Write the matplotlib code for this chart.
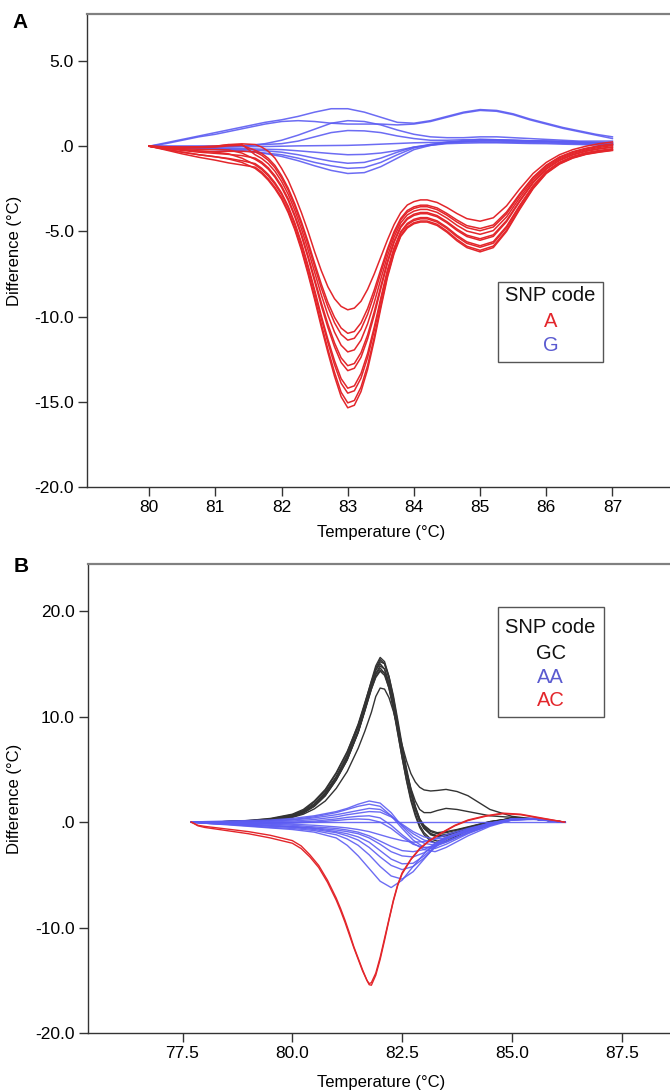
import matplotlib
matplotlib.use('Agg')
import matplotlib.pyplot as plt
from matplotlib.patches import Rectangle

plt.rcParams['font.family'] = ['Liberation Sans', 'DejaVu Sans']

# ---- panel A data (SNP code A = red, G = blue) ----
temp_a_red = [80.0, 80.25, 80.5, 80.75, 81.0, 81.2, 81.4,
              81.6, 81.7, 81.8, 81.9, 82.0, 82.1, 82.2, 82.3, 82.4, 82.5,
              82.6, 82.7, 82.8, 82.9, 83.0, 83.1, 83.2, 83.3, 83.4, 83.5,
              83.6, 83.7, 83.8, 83.9, 84.0, 84.1, 84.2, 84.35, 84.5, 84.65,
              84.8, 85.0, 85.2, 85.4, 85.6, 85.8, 86.0, 86.2, 86.4, 86.6,
              86.8, 87.0]
a_red = [
    [0, -0.03, -0.05, -0.03, 0.0, 0.08, 0.14,
     0.1, -0.05, -0.3, -0.7, -1.3, -2.0, -2.9, -3.9, -5.0, -6.2,
     -7.3, -8.25, -8.95, -9.4, -9.6, -9.5, -9.1, -8.4, -7.5, -6.5,
     -5.5, -4.6, -3.9, -3.45, -3.25, -3.15, -3.15, -3.3, -3.6, -3.95,
     -4.25, -4.4, -4.2, -3.5, -2.5, -1.6, -0.95, -0.5, -0.2, 0.0,
     0.15, 0.25],
    [0, -0.05, -0.08, -0.08, -0.05, 0.02, 0.05,
     -0.24, -0.42, -0.71, -1.13, -1.73, -2.46, -3.38, -4.43, -5.6, -6.87,
     -8.09, -9.17, -10.04, -10.67, -10.98, -10.87, -10.37, -9.53, -8.44, -7.22,
     -6.03, -5.01, -4.24, -3.77, -3.56, -3.46, -3.46, -3.62, -3.95, -4.33,
     -4.66, -4.83, -4.62, -3.86, -2.79, -1.82, -1.11, -0.63, -0.32, -0.12,
     0.03, 0.13],
    [0, -0.1, -0.2, -0.28, -0.32, -0.3, -0.3,
     -0.33, -0.53, -0.83, -1.26, -1.86, -2.59, -3.52, -4.58, -5.78, -7.07,
     -8.32, -9.44, -10.36, -11.04, -11.38, -11.27, -10.74, -9.86, -8.71, -7.43,
     -6.18, -5.13, -4.33, -3.87, -3.65, -3.55, -3.55, -3.72, -4.05, -4.45,
     -4.78, -4.96, -4.74, -3.97, -2.87, -1.88, -1.15, -0.67, -0.36, -0.15,
     -0.01, 0.1],
    [0, -0.04, -0.06, -0.05, 0.0, 0.1, 0.1,
     -0.5, -0.72, -1.03, -1.47, -2.07, -2.82, -3.76, -4.85, -6.08, -7.4,
     -8.72, -9.91, -10.91, -11.68, -12.07, -11.95, -11.38, -10.42, -9.18, -7.79,
     -6.45, -5.33, -4.5, -4.03, -3.81, -3.71, -3.71, -3.88, -4.22, -4.64,
     -4.98, -5.17, -4.95, -4.15, -3.02, -1.99, -1.23, -0.74, -0.42, -0.21,
     -0.07, 0.04],
    [0, -0.12, -0.25, -0.35, -0.42, -0.48, -0.55,
     -0.7, -0.93, -1.27, -1.73, -2.33, -3.08, -4.04, -5.15, -6.43, -7.8,
     -9.18, -10.44, -11.54, -12.42, -12.88, -12.75, -12.12, -11.08, -9.72, -8.21,
     -6.75, -5.57, -4.7, -4.22, -3.99, -3.89, -3.89, -4.07, -4.43, -4.86,
     -5.22, -5.43, -5.2, -4.36, -3.18, -2.11, -1.32, -0.81, -0.49, -0.27,
     -0.14, -0.04],
    [0, -0.08, -0.15, -0.18, -0.2, -0.22, -0.4,
     -0.77, -1.01, -1.35, -1.82, -2.42, -3.18, -4.14, -5.26, -6.55, -7.94,
     -9.35, -10.64, -11.77, -12.69, -13.17, -13.03, -12.39, -11.31, -9.92, -8.36,
     -6.86, -5.65, -4.77, -4.29, -4.06, -3.96, -3.96, -4.14, -4.5, -4.94,
     -5.3, -5.52, -5.29, -4.43, -3.24, -2.16, -1.35, -0.84, -0.51, -0.3,
     -0.16, -0.06],
    [0, -0.18, -0.35, -0.5, -0.62, -0.72, -0.85,
     -1.02, -1.29, -1.66, -2.14, -2.74, -3.52, -4.5, -5.66, -7.0, -8.44,
     -9.94, -11.33, -12.59, -13.64, -14.2, -14.06, -13.34, -12.16, -10.62, -8.9,
     -7.26, -5.96, -5.02, -4.53, -4.29, -4.19, -4.19, -4.38, -4.76, -5.23,
     -5.61, -5.84, -5.6, -4.7, -3.46, -2.32, -1.47, -0.94, -0.6, -0.38,
     -0.25, -0.15],
    [0, -0.1, -0.2, -0.28, -0.35, -0.45, -0.7,
     -1.09, -1.37, -1.75, -2.23, -2.83, -3.62, -4.6, -5.77, -7.13, -8.58,
     -10.11, -11.52, -12.82, -13.91, -14.49, -14.35, -13.61, -12.4, -10.82, -9.05,
     -7.37, -6.05, -5.09, -4.6, -4.36, -4.26, -4.26, -4.45, -4.83, -5.31,
     -5.7, -5.93, -5.69, -4.78, -3.52, -2.37, -1.5, -0.97, -0.63, -0.41,
     -0.28, -0.18],
    [0, -0.22, -0.45, -0.65, -0.82, -0.98, -1.1,
     -1.23, -1.52, -1.92, -2.41, -3.01, -3.81, -4.8, -5.99, -7.38, -8.86,
     -10.44, -11.91, -13.27, -14.44, -15.06, -14.92, -14.14, -12.87, -11.21, -9.35,
     -7.59, -6.22, -5.23, -4.73, -4.49, -4.39, -4.39, -4.58, -4.98, -5.47,
     -5.87, -6.11, -5.86, -4.93, -3.64, -2.46, -1.57, -1.02, -0.68, -0.46,
     -0.33, -0.23],
    [0, -0.18, -0.35, -0.5, -0.62, -0.75, -0.95,
     -1.3, -1.6, -2.0, -2.5, -3.1, -3.9, -4.9, -6.1, -7.5, -9.0,
     -10.6, -12.1, -13.5, -14.7, -15.35, -15.2, -14.4, -13.1, -11.4, -9.5,
     -7.7, -6.3, -5.3, -4.8, -4.55, -4.45, -4.45, -4.65, -5.05, -5.55,
     -5.95, -6.2, -5.95, -5.0, -3.7, -2.5, -1.6, -1.05, -0.7, -0.48,
     -0.35, -0.25],
]

temp_a_blue = [80.0, 80.25, 80.5, 80.75, 81.0, 81.25, 81.5, 81.75, 82.0, 82.25, 82.5, 82.75,
               83.0, 83.25, 83.5, 83.75, 84.0, 84.25, 84.5, 84.75, 85.0, 85.25, 85.5, 85.75,
               86.0, 86.25, 86.5, 86.75, 87.0]
a_blue = [
    [0, 0.2, 0.4, 0.6, 0.8, 1.0, 1.2, 1.4, 1.55, 1.75, 2.0, 2.2, 2.2, 2.0, 1.7, 1.4, 1.35, 1.5, 1.75, 2.0, 2.15, 2.1, 1.9, 1.6, 1.35, 1.1, 0.9, 0.7, 0.55],
    [0, 0.15, 0.35, 0.55, 0.7, 0.9, 1.1, 1.3, 1.45, 1.5, 1.45, 1.35, 1.3, 1.3, 1.3, 1.25, 1.3, 1.45, 1.7, 1.95, 2.1, 2.05, 1.85, 1.55, 1.3, 1.05, 0.85, 0.65, 0.45],
    [0, 0.0, 0.0, 0.0, 0.0, 0.0, 0.05, 0.15, 0.35, 0.65, 1.0, 1.35, 1.5, 1.45, 1.25, 0.95, 0.7, 0.55, 0.5, 0.5, 0.55, 0.55, 0.5, 0.45, 0.4, 0.35, 0.3, 0.3, 0.3],
    [0, 0.0, 0.0, 0.0, 0.0, 0.0, 0.05, 0.1, 0.15, 0.3, 0.55, 0.8, 0.92, 0.9, 0.8, 0.6, 0.45, 0.35, 0.35, 0.38, 0.4, 0.38, 0.35, 0.32, 0.3, 0.28, 0.25, 0.22, 0.2],
    [0, -0.02, -0.04, -0.05, -0.05, -0.04, -0.03, -0.02, 0.0, 0.02, 0.03, 0.04, 0.05, 0.08, 0.12, 0.16, 0.2, 0.22, 0.24, 0.25, 0.25, 0.24, 0.23, 0.21, 0.2, 0.17, 0.15, 0.12, 0.1],
    [0, -0.05, -0.08, -0.1, -0.1, -0.12, -0.15, -0.18, -0.2, -0.27, -0.35, -0.43, -0.5, -0.48, -0.4, -0.25, -0.05, 0.05, 0.15, 0.18, 0.2, 0.2, 0.18, 0.16, 0.15, 0.12, 0.1, 0.07, 0.05],
    [0, -0.05, -0.1, -0.12, -0.15, -0.18, -0.2, -0.27, -0.35, -0.5, -0.7, -0.88, -1.0, -0.95, -0.7, -0.35, -0.05, 0.1, 0.2, 0.26, 0.3, 0.3, 0.28, 0.26, 0.25, 0.2, 0.16, 0.13, 0.1],
    [0, -0.07, -0.12, -0.16, -0.2, -0.25, -0.3, -0.4, -0.5, -0.7, -0.95, -1.15, -1.3, -1.25, -0.95, -0.5, -0.1, 0.1, 0.25, 0.33, 0.4, 0.38, 0.35, 0.32, 0.3, 0.26, 0.22, 0.18, 0.15],
    [0, -0.05, -0.1, -0.12, -0.15, -0.22, -0.3, -0.43, -0.6, -0.85, -1.15, -1.42, -1.6, -1.55, -1.2, -0.7, -0.2, 0.05, 0.2, 0.28, 0.35, 0.34, 0.33, 0.31, 0.3, 0.27, 0.24, 0.22, 0.2],
]

# ---- panel B data (GC = black, AA = blue, AC = red) ----
temp_b_black = [77.7, 78.0, 78.5, 79.0, 79.5, 80.0, 80.25, 80.5, 80.75, 81.0,
                81.25, 81.5, 81.65, 81.8, 81.9, 82.0, 82.1, 82.2, 82.3, 82.4,
                82.5, 82.6, 82.7, 82.8, 82.9, 83.0, 83.15, 83.3, 83.5, 83.75,
                84.0, 84.5, 85.0, 85.5, 86.2]
b_black = [
    [0, 0.0, 0.05, 0.1, 0.25, 0.6, 1.0, 1.7, 2.8, 4.3, 6.3, 9.1, 11.2, 13.4, 14.8, 15.6, 15.2, 13.8, 11.8, 9.4,
     7.0, 4.8, 2.9, 1.3, 0.2, -0.5, -1.1, -1.3, -1.2, -0.9, -0.55, 0.0, 0.35, 0.3, 0.0],
    [0, 0.0, 0.05, 0.1, 0.25, 0.6, 1.0, 1.7, 2.8, 4.3, 6.3, 9.0, 11.0, 13.2, 14.6, 15.4, 15.0, 13.6, 11.6, 9.2,
     6.8, 4.6, 2.7, 1.2, 0.1, -0.6, -1.2, -1.4, -1.3, -0.95, -0.6, 0.0, 0.35, 0.3, 0.0],
    [0, 0.0, 0.0, 0.1, 0.2, 0.5, 0.9, 1.5, 2.5, 4.0, 5.9, 8.6, 10.7, 13.0, 14.4, 15.2, 15.0, 13.8, 12.0, 9.7,
     7.3, 5.1, 3.1, 1.5, 0.3, -0.4, -0.9, -1.1, -1.0, -0.75, -0.5, 0.05, 0.35, 0.3, 0.0],
    [0, 0.0, 0.05, 0.15, 0.3, 0.7, 1.1, 1.9, 3.0, 4.6, 6.6, 9.3, 11.3, 13.3, 14.4, 15.0, 14.5, 13.0, 10.9, 8.5,
     6.1, 3.9, 2.0, 0.6, -0.5, -1.2, -1.8, -2.0, -1.8, -1.3, -0.8, -0.1, 0.3, 0.3, 0.0],
    [0, 0.0, 0.0, 0.05, 0.2, 0.5, 0.85, 1.5, 2.5, 4.0, 5.9, 8.5, 10.6, 12.8, 14.1, 14.8, 14.5, 13.2, 11.3, 9.0,
     6.7, 4.6, 2.7, 1.2, 0.1, -0.6, -1.1, -1.3, -1.2, -0.9, -0.55, 0.0, 0.35, 0.3, 0.0],
    [0, 0.0, 0.05, 0.15, 0.35, 0.75, 1.2, 2.0, 3.1, 4.7, 6.7, 9.2, 11.1, 13.0, 14.0, 14.6, 14.1, 12.7, 10.7, 8.4,
     6.1, 4.0, 2.2, 0.8, -0.3, -1.0, -1.6, -1.8, -1.6, -1.2, -0.7, -0.05, 0.3, 0.3, 0.0],
    [0, 0.0, 0.0, 0.1, 0.25, 0.55, 0.95, 1.6, 2.6, 4.1, 6.0, 8.5, 10.5, 12.6, 13.8, 14.4, 14.1, 12.9, 11.1, 8.9,
     6.7, 4.7, 2.9, 1.4, 0.3, -0.3, -0.8, -1.0, -0.9, -0.7, -0.45, 0.05, 0.35, 0.3, 0.0],
    [0, 0.0, 0.05, 0.1, 0.25, 0.6, 1.0, 1.7, 2.7, 4.2, 6.1, 8.6, 10.6, 12.6, 13.7, 14.3, 13.9, 12.7, 10.9, 8.8,
     6.7, 4.8, 3.2, 2.0, 1.2, 0.9, 0.9, 1.1, 1.3, 1.2, 1.0, 0.6, 0.45, 0.3, 0.0],
    [0, 0.0, 0.05, 0.1, 0.2, 0.45, 0.75, 1.25, 2.0, 3.2, 4.8, 7.0, 8.6, 10.4, 11.9, 12.7, 12.6, 11.8, 10.5, 8.9,
     7.3, 5.8, 4.6, 3.8, 3.3, 3.05, 2.95, 3.0, 3.1, 2.9, 2.5, 1.2, 0.55, 0.3, 0.0],
]

temp_b_blue = [77.7, 78.0, 78.5, 79.0, 79.5, 80.0, 80.5, 81.0, 81.25, 81.5, 81.75, 82.0,
               82.25, 82.5, 82.75, 83.0, 83.25, 83.5, 84.0, 84.5, 85.0, 85.5, 86.2]
b_blue = [
    [0, 0, 0, 0, 0, 0, 0, 0, 0, 0, 0, 0, 0, 0, 0, 0, 0, 0, 0, 0, 0, 0, 0],
    [0, 0.05, 0.1, 0.15, 0.2, 0.35, 0.6, 1.0, 1.3, 1.7, 2.0, 1.8, 0.9, -0.4, -1.4, -2.0, -2.2, -1.9, -1.0, -0.2, 0.3, 0.3, 0.0],
    [0, 0.0, 0.05, 0.1, 0.15, 0.25, 0.5, 0.9, 1.2, 1.5, 1.7, 1.5, 0.6, -0.6, -1.7, -2.4, -2.5, -2.1, -1.1, -0.3, 0.3, 0.35, 0.0],
    [0, 0.0, 0.0, 0.05, 0.1, 0.2, 0.4, 0.7, 0.9, 1.1, 1.3, 1.2, 0.6, -0.3, -1.1, -1.7, -2.0, -1.8, -1.0, -0.3, 0.2, 0.3, 0.0],
    [0, -0.05, -0.05, 0.0, 0.05, 0.1, 0.25, 0.5, 0.7, 0.85, 1.0, 0.95, 0.5, -0.2, -0.9, -1.4, -1.6, -1.5, -0.9, -0.2, 0.3, 0.35, 0.0],
    [0, -0.05, -0.1, -0.1, -0.05, 0.0, 0.1, 0.3, 0.45, 0.55, 0.6, 0.4, -0.3, -1.2, -2.0, -2.6, -2.8, -2.4, -1.3, -0.4, 0.2, 0.3, 0.0],
    [0, -0.1, -0.2, -0.2, -0.15, -0.1, 0.0, 0.15, 0.25, 0.3, 0.25, 0.0, -0.6, -1.4, -2.1, -2.4, -2.3, -1.9, -1.0, -0.3, 0.25, 0.3, 0.0],
    [0, -0.1, -0.25, -0.4, -0.55, -0.7, -0.95, -1.5, -2.2, -3.2, -4.4, -5.6, -6.2, -5.5, -4.2, -3.0, -2.0, -1.4, -0.7, -0.1, 0.3, 0.3, 0.0],
    [0, -0.1, -0.2, -0.35, -0.5, -0.6, -0.8, -1.2, -1.6, -2.2, -3.1, -4.2, -5.1, -5.4, -4.7, -3.5, -2.3, -1.5, -0.7, -0.1, 0.3, 0.35, 0.0],
    [0, -0.05, -0.15, -0.3, -0.4, -0.5, -0.7, -1.0, -1.3, -1.7, -2.4, -3.3, -4.1, -4.5, -4.2, -3.4, -2.4, -1.6, -0.8, -0.2, 0.25, 0.3, 0.0],
    [0, -0.1, -0.2, -0.3, -0.35, -0.45, -0.6, -0.9, -1.1, -1.4, -1.9, -2.7, -3.5, -3.95, -3.9, -3.2, -2.3, -1.6, -0.8, -0.2, 0.25, 0.3, 0.0],
    [0, -0.05, -0.1, -0.2, -0.3, -0.4, -0.55, -0.75, -0.9, -1.1, -1.5, -2.1, -2.8, -3.2, -3.3, -2.9, -2.2, -1.6, -0.8, -0.2, 0.2, 0.25, 0.0],
    [0, -0.05, -0.1, -0.15, -0.2, -0.3, -0.45, -0.6, -0.75, -0.95, -1.3, -1.8, -2.3, -2.7, -2.8, -2.6, -2.1, -1.5, -0.7, -0.15, 0.2, 0.3, 0.0],
    [0, 0.0, -0.05, -0.1, -0.15, -0.2, -0.3, -0.45, -0.55, -0.7, -0.9, -1.2, -1.5, -1.75, -1.9, -1.85, -1.6, -1.2, -0.6, -0.1, 0.25, 0.3, 0.0],
]

temp_b_red = [77.7, 77.85, 78.0, 78.5, 79.0, 79.5, 79.8, 80.0, 80.2, 80.4,
              80.6, 80.8, 81.0, 81.1, 81.2, 81.3, 81.4, 81.5, 81.6, 81.7,
              81.75, 81.8, 81.9, 82.0, 82.1, 82.2, 82.3, 82.4, 82.5, 82.7,
              82.9, 83.1, 83.4, 83.7, 84.0, 84.4, 84.8, 85.2, 85.6, 86.2]
b_red = [
    [0, -0.35, -0.5, -0.8, -1.1, -1.5, -1.8, -2.0, -2.5, -3.3,
     -4.3, -5.7, -7.4, -8.4, -9.5, -10.7, -11.9, -13.0, -14.1, -15.0,
     -15.3, -15.2, -14.3, -12.8, -11.0, -9.2, -7.4, -5.9, -4.8, -3.5,
     -2.5, -1.8, -1.0, -0.3, 0.2, 0.6, 0.85, 0.75, 0.45, 0.0],
    [0, -0.3, -0.4, -0.65, -0.9, -1.25, -1.55, -1.75, -2.25, -3.1,
     -4.1, -5.5, -7.2, -8.2, -9.3, -10.5, -11.8, -12.9, -14.0, -15.0,
     -15.4, -15.45, -14.5, -13.0, -11.2, -9.3, -7.5, -6.0, -4.9, -3.55,
     -2.55, -1.85, -1.05, -0.35, 0.15, 0.55, 0.8, 0.7, 0.4, 0.0],
]

yticks_a = [-20, -15, -10, -5, 0, 5]
yticklabels_a = ['-20.0', '-15.0', '-10.0', '-5.0', '.0', '5.0']
xticks_a = [80, 81, 82, 83, 84, 85, 86, 87]
xticklabels_a = ['80', '81', '82', '83', '84', '85', '86', '87']
yticks_b = [-20, -10, 0, 10, 20]
yticklabels_b = ['-20.0', '-10.0', '.0', '10.0', '20.0']
xticks_b = [77.5, 80.0, 82.5, 85.0, 87.5]
xticklabels_b = ['77.5', '80.0', '82.5', '85.0', '87.5']

RED = '#e3262b'
BLUE = '#5c5cf2'
BLACK = '#333333'
LEG_BLUE = '#5a5ad0'


def style_axes(ax):
    ax.spines['right'].set_visible(False)
    ax.spines['top'].set_color('#808080')
    ax.spines['top'].set_linewidth(1.6)
    for s in ('left', 'bottom'):
        ax.spines[s].set_color('#333333')
        ax.spines[s].set_linewidth(1.0)
    ax.tick_params(direction='out', length=6.5, width=1.0, color='#333333',
                   labelsize=12.5, pad=3)


def snp_legend(ax, x0, y0, x1, y1, items, ys):
    ax.add_patch(Rectangle((x0, y0), x1 - x0, y1 - y0, transform=ax.transAxes,
                           fill=False, edgecolor='#555555', linewidth=1.0, zorder=5))
    xc = (x0 + x1) / 2
    for (txt, col), yy in zip(items, ys):
        ax.text(xc, yy, txt, color=col, fontsize=14.5, ha='center', va='center',
                transform=ax.transAxes, zorder=6)


fig = plt.figure(figsize=(6.7, 10.92), dpi=100)

# ---------- panel A ----------
ax_a = fig.add_axes([0.1299, 0.554, 0.8701, 0.4332])
for ys in a_blue:
    ax_a.plot(temp_a_blue, ys, color=BLUE, lw=1.1, alpha=0.9)
for ys in a_red:
    ax_a.plot(temp_a_red, ys, color=RED, lw=1.1)
ax_a.set_xlim(79.06, 87.87)
ax_a.set_ylim(-20, 7.76)
ax_a.set_yticks(yticks_a)
ax_a.set_yticklabels(yticklabels_a)
ax_a.set_xticks(xticks_a)
ax_a.set_xticklabels(xticklabels_a)
style_axes(ax_a)
ax_a.set_xlabel('Temperature (°C)', fontsize=12)
ax_a.set_ylabel('Difference (°C)', fontsize=12)
ax_a.xaxis.set_label_coords(0.504, -0.080)
ax_a.yaxis.set_label_coords(-0.112, 0.5)
snp_legend(ax_a, 0.7045, 0.265, 0.8856, 0.434,
           [('SNP code', '#111111'), ('A', RED), ('G', LEG_BLUE)],
           [0.404, 0.350, 0.300])

# ---------- panel B ----------
ax_b = fig.add_axes([0.1309, 0.0538, 0.8691, 0.4297])
for ys in b_black:
    ax_b.plot(temp_b_black, ys, color=BLACK, lw=1.0)
for ys in b_blue:
    ax_b.plot(temp_b_blue, ys, color=BLUE, lw=1.0, alpha=0.9)
for ys in b_red:
    ax_b.plot(temp_b_red, ys, color=RED, lw=1.0)
ax_b.set_xlim(75.34, 88.6)
ax_b.set_ylim(-20, 24.45)
ax_b.set_yticks(yticks_b)
ax_b.set_yticklabels(yticklabels_b)
ax_b.set_xticks(xticks_b)
ax_b.set_xticklabels(xticklabels_b)
style_axes(ax_b)
ax_b.set_xlabel('Temperature (°C)', fontsize=12)
ax_b.set_ylabel('Difference (°C)', fontsize=12)
ax_b.xaxis.set_label_coords(0.504, -0.090)
ax_b.yaxis.set_label_coords(-0.112, 0.5)
snp_legend(ax_b, 0.704, 0.6733, 0.886, 0.9077,
           [('SNP code', '#111111'), ('GC', '#111111'), ('AA', LEG_BLUE), ('AC', RED)],
           [0.8647, 0.8097, 0.7581, 0.7085])

fig.text(0.030, 1 - 22.5 / 1092, 'A', fontsize=15, fontweight='bold', ha='center', va='center')
fig.text(0.032, 1 - 566 / 1092, 'B', fontsize=15, fontweight='bold', ha='center', va='center')

fig.savefig('out.png', dpi=100)
